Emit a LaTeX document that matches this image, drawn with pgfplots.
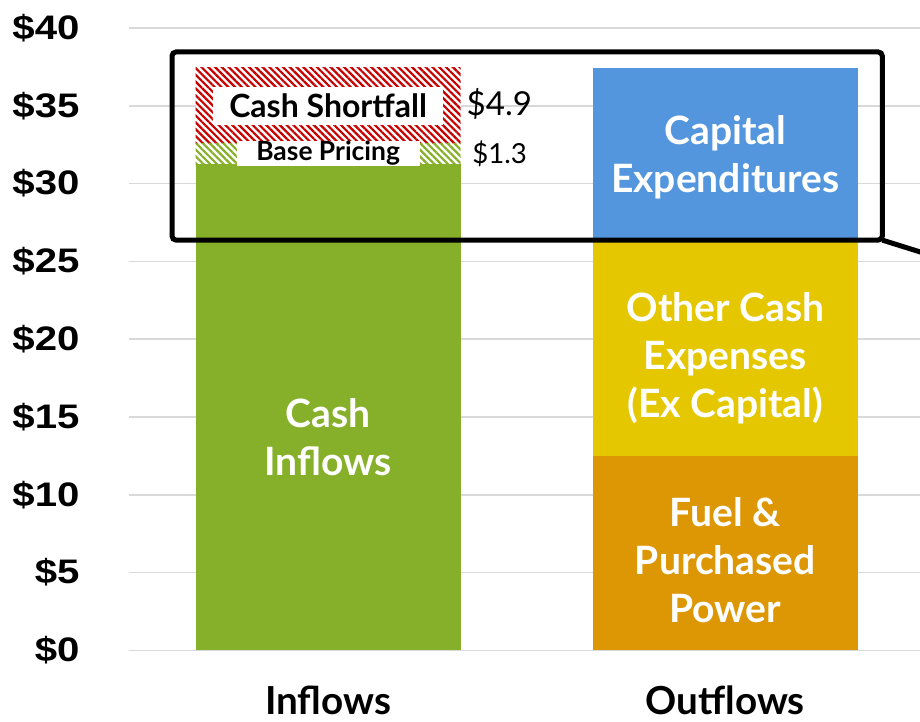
\documentclass[border=0pt]{standalone}
\usepackage{fontspec}
\usepackage{graphicx}
\usepackage{pgfplots}
\pgfplotsset{compat=1.18}
\usetikzlibrary{patterns.meta}
\setmainfont{Lato}
\newfontfamily\tickfont{Liberation Sans}
\definecolor{ingreen}{HTML}{86B02A}
\definecolor{capblue}{HTML}{5396DE}
\definecolor{othyellow}{HTML}{E5C700}
\definecolor{fuelorange}{HTML}{DE9704}
\definecolor{hatchred}{HTML}{C80000}
\definecolor{gridgray}{HTML}{D9D9D9}
\newcommand\tl[1]{\scalebox{1.18}[1]{\$#1}}

\begin{document}
\begin{tikzpicture}
\begin{axis}[
  scale only axis,
  width=395pt, height=311pt,
  xmin=-0.5, xmax=1.49, ymin=0, ymax=40,
  ybar stacked, bar width=0.667,
  axis line style={draw=none},
  ymajorgrids, grid style={gridgray,line width=0.8pt},
  xtick=\empty,
  ytick={0,5,10,15,20,25,30,35,40},
  yticklabels={\tl{0},\tl{5},\tl{10},\tl{15},\tl{20},\tl{25},\tl{30},\tl{35},\tl{40}},
  yticklabel style={inner sep=0pt,xshift=-24.8pt,font=\tickfont\bfseries\fontsize{17}{19}\selectfont},
  major tick length=0pt,
  clip=false,
]
% Inflows: cash inflows, base pricing, cash shortfall
\addplot[fill=ingreen,draw=none] coordinates {(0,31.25) (1,0)};
\addplot[fill=white,draw=none,
  postaction={pattern={Lines[angle=-45,distance=2.4pt,line width=1.1pt]},pattern color=ingreen}]
  coordinates {(0,1.3) (1,0)};
\addplot[fill=white,draw=none,
  postaction={pattern={Lines[angle=-45,distance=2.4pt,line width=1.1pt]},pattern color=hatchred}]
  coordinates {(0,4.9) (1,0)};
% Outflows: fuel, other cash expenses, capex
\addplot[fill=fuelorange,draw=none] coordinates {(0,0) (1,12.5)};
\addplot[fill=othyellow,draw=none] coordinates {(0,0) (1,14.0)};
\addplot[fill=capblue,draw=none] coordinates {(0,0) (1,10.95)};

\coordinate (lInfl) at (axis cs:0,13.7);
\coordinate (lCapex) at (axis cs:1,31.7);
\coordinate (lOther) at (axis cs:1,18.78);
\coordinate (lFuel) at (axis cs:1,5.79);
\coordinate (lShort) at (axis cs:0,35);
\coordinate (lBase) at (axis cs:0,31.93);
\coordinate (v49) at (axis cs:0.431,35.1);
\coordinate (v13) at (axis cs:0.432,31.9);
\coordinate (cIn) at (axis cs:0,-4.15);
\coordinate (cOut) at (axis cs:1,-4.15);
\coordinate (boxA) at (axis cs:-0.393,26.37);
\coordinate (boxB) at (axis cs:1.395,38.46);
\coordinate (boxC) at (axis cs:1.395,26.37);
\coordinate (boxD) at (axis cs:1.693,23.99);
\coordinate (BL) at (axis cs:-0.826,-4.566);
\coordinate (TR) at (axis cs:1.49,41.80);
\end{axis}

% labels inside bars
\begin{scope}[every node/.style={font=\bfseries\fontsize{19.5}{24}\selectfont,text=white,align=center}]
\node at (lInfl) {Cash\\Inflows};
\node at (lCapex) {Capital\\Expenditures};
\node at (lOther) {Other Cash\\Expenses\\(Ex Capital)};
\node at (lFuel) {Fuel \&\\Purchased\\Power};
\end{scope}

\node[fill=white,inner sep=0pt,minimum width=115pt,minimum height=19pt,
  font=\bfseries\fontsize{16}{18}\selectfont] at (lShort) {Cash Shortfall};
\node[fill=white,inner sep=0pt,minimum width=91.5pt,minimum height=10.5pt,
  font=\bfseries\fontsize{13.2}{14}\selectfont] at (lBase) {Base Pricing};
\node[font=\fontsize{16.5}{18}\selectfont] at (v49) {\$4.9};
\node[font=\fontsize{13.8}{15}\selectfont] at (v13) {\$1.3};

% category labels
\node[anchor=base,inner sep=0pt,font=\bfseries\fontsize{19.3}{21}\selectfont] at (cIn) {Inflows};
\node[anchor=base,inner sep=0pt,font=\bfseries\fontsize{19.3}{21}\selectfont] at (cOut) {Outflows};

% callout box
\draw[line width=2.5pt,rounded corners=2pt] (boxA) rectangle (boxB);
\draw[line width=2.5pt] (boxC) -- (boxD);

\pgfresetboundingbox
\path[use as bounding box] (BL) rectangle (TR);
\end{tikzpicture}
\end{document}
